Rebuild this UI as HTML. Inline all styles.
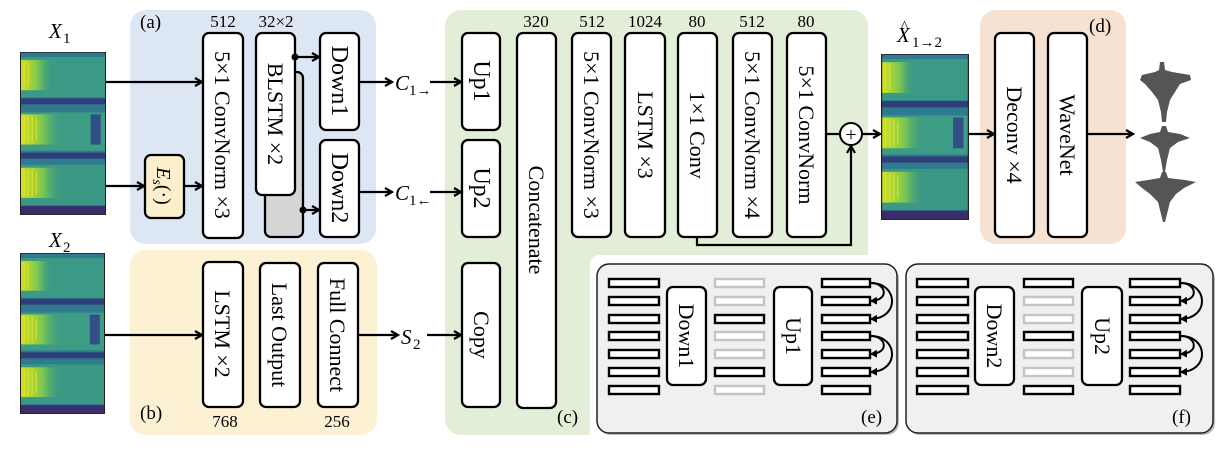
<!DOCTYPE html>
<html><head><meta charset="utf-8"><style>
html,body{margin:0;padding:0;background:#fff}
svg{display:block}
text{font-family:"Liberation Serif",serif;fill:#000}
</style></head><body>
<svg width="1218" height="452" viewBox="0 0 1218 452" xmlns="http://www.w3.org/2000/svg">
<defs>
<marker id="ah" markerWidth="10" markerHeight="10" refX="8" refY="5" orient="auto" markerUnits="userSpaceOnUse">
<path d="M1,1 L8,5 L1,9" fill="none" stroke="#000" stroke-width="2.2"/>
</marker>
<marker id="sh" markerWidth="8" markerHeight="8" refX="6" refY="4" orient="auto" markerUnits="userSpaceOnUse">
<path d="M0,0 L7,4 L0,8 z" fill="#000"/>
</marker>
<linearGradient id="yl" x1="0" x2="1" y1="0" y2="0">
<stop offset="0" stop-color="#d8e020"/><stop offset="0.5" stop-color="#7cc850"/><stop offset="1" stop-color="#2f8f8c" stop-opacity="0"/>
</linearGradient>
<symbol id="spec" viewBox="0 0 85 162">
<rect x="0" y="0" width="85" height="162" fill="#2f7a8e"/>
<rect x="0" y="5" width="85" height="40" fill="#3a9a86"/>
<rect x="0" y="60" width="85" height="38" fill="#3d9c84"/>
<rect x="0" y="112" width="85" height="40" fill="#3a9884"/>
<rect x="0" y="46" width="85" height="6" fill="#2f3d7a"/>
<rect x="0" y="100" width="85" height="6" fill="#2f3d7a"/>
<rect x="0" y="153" width="85" height="9" fill="#3a2d6e"/>
<rect x="0" y="8" width="35" height="30" fill="url(#yl)"/>
<rect x="0" y="62" width="45" height="30" fill="url(#yl)"/>
<rect x="0" y="115" width="45" height="30" fill="url(#yl)"/>
<g stroke="#e6e32a" stroke-width="1.2" opacity="0.8">
<line x1="4" y1="64" x2="4" y2="90"/><line x1="8" y1="64" x2="8" y2="90"/><line x1="12" y1="64" x2="12" y2="90"/><line x1="16" y1="66" x2="16" y2="88"/>
<line x1="4" y1="117" x2="4" y2="143"/><line x1="8" y1="117" x2="8" y2="143"/><line x1="12" y1="117" x2="12" y2="143"/><line x1="16" y1="119" x2="16" y2="141"/>
<line x1="4" y1="10" x2="4" y2="34"/><line x1="8" y1="10" x2="8" y2="34"/>
</g>
<rect x="70" y="62" width="10" height="30" fill="#2f4f86"/>
<rect x="0" y="0" width="85" height="162" fill="none" stroke="#222" stroke-width="1.5"/>
</symbol>
</defs>

<!-- panels -->
<rect x="130" y="10" width="246" height="234" rx="16" fill="#dde7f4"/>
<rect x="130" y="250" width="247" height="185" rx="16" fill="#fdf1d4"/>
<path d="M461,10 H852 a16,16 0 0 1 16,16 V255 H600 a10,10 0 0 0 -10,10 V435 H461 a16,16 0 0 1 -16,-16 V26 a16,16 0 0 1 16,-16 z" fill="#e3eed8"/>
<rect x="980" y="10" width="146" height="234" rx="16" fill="#f6e2d3"/>
<rect x="599" y="267" width="300" height="168" rx="12" fill="#777" opacity="0.5"/>
<rect x="597" y="264" width="300" height="169" rx="12" fill="#f0f0f0" stroke="#222" stroke-width="1.5"/>
<rect x="908" y="267" width="307" height="168" rx="12" fill="#777" opacity="0.5"/>
<rect x="906" y="264" width="307" height="169" rx="12" fill="#f0f0f0" stroke="#222" stroke-width="1.5"/>

<!-- spectrograms -->
<use href="#spec" x="20" y="52" width="86" height="163"/>
<use href="#spec" x="20" y="253" width="85" height="161"/>
<use href="#spec" x="881" y="54" width="88" height="166"/>

<g font-size="21">
<text x="49" y="38" font-style="italic">X</text><text x="63" y="43" font-size="15">1</text>
<text x="49" y="247" font-style="italic">X</text><text x="63" y="252" font-size="15">2</text>
<text x="897" y="42" font-style="italic">X</text><text x="901" y="31" font-size="15">^</text><text x="912" y="47" font-size="15">1→2</text>
<text x="140" y="28" font-size="19">(a)</text>
<text x="140" y="419" font-size="19">(b)</text>
<text x="557" y="423" font-size="19">(c)</text>
<text x="1089" y="32" font-size="19">(d)</text>
<text x="861" y="423" font-size="19">(e)</text>
<text x="1172" y="423" font-size="19">(f)</text>
</g>
<g font-size="17" text-anchor="middle">
<text x="223" y="27">512</text><text x="276" y="27">32×2</text>
<text x="536" y="27">320</text><text x="592" y="27">512</text><text x="645" y="27">1024</text>
<text x="697" y="27">80</text><text x="752" y="27">512</text><text x="806" y="27">80</text>
<text x="225" y="427">768</text><text x="337" y="427">256</text>
</g>

<!-- boxes -->
<g fill="#fff" stroke="#000" stroke-width="2.3">
<rect x="265" y="72" width="38" height="165" rx="6" fill="#d6d6d6"/>
<rect x="203" y="33" width="40" height="205" rx="6"/>
<rect x="256" y="33" width="39" height="162" rx="6"/>
<rect x="320" y="33" width="39" height="97" rx="6"/>
<rect x="320" y="140" width="39" height="97" rx="6"/>
<rect x="145" y="155" width="39" height="63" rx="6" fill="#fcefcc"/>
<rect x="203" y="262" width="40" height="145" rx="6"/>
<rect x="260" y="263" width="40" height="144" rx="6"/>
<rect x="318" y="263" width="40" height="144" rx="6"/>
<rect x="462" y="33" width="38" height="97" rx="6"/>
<rect x="462" y="140" width="38" height="97" rx="6"/>
<rect x="462" y="263" width="38" height="144" rx="6"/>
<rect x="517" y="33" width="39" height="375" rx="6"/>
<rect x="572" y="33" width="39" height="204" rx="6"/>
<rect x="625" y="33" width="40" height="204" rx="6"/>
<rect x="678" y="33" width="39" height="204" rx="6"/>
<rect x="733" y="33" width="39" height="204" rx="6"/>
<rect x="787" y="33" width="39" height="204" rx="6"/>
<rect x="995" y="33" width="39" height="204" rx="6"/>
<rect x="1048" y="33" width="39" height="204" rx="6"/>
<rect x="667" y="287" width="39" height="98" rx="6"/>
<rect x="774" y="287" width="38" height="98" rx="6"/>
<rect x="975" y="287" width="39" height="98" rx="6"/>
<rect x="1082" y="287" width="40" height="98" rx="6"/>
</g>

<!-- rotated labels -->
<g font-size="22">
<text transform="translate(215,135) rotate(90)" text-anchor="middle">5×1 ConvNorm ×3</text>
<text transform="translate(268,114) rotate(90)" text-anchor="middle">BLSTM ×2</text>
<text transform="translate(332,81) rotate(90)" text-anchor="middle" font-size="24">Down1</text>
<text transform="translate(332,188) rotate(90)" text-anchor="middle" font-size="24">Down2</text>
<text transform="translate(215,334) rotate(90)" text-anchor="middle">LSTM ×2</text>
<text transform="translate(272,335) rotate(90)" text-anchor="middle">Last Output</text>
<text transform="translate(330,335) rotate(90)" text-anchor="middle">Full Connect</text>
<text transform="translate(474,81) rotate(90)" text-anchor="middle" font-size="24">Up1</text>
<text transform="translate(474,188) rotate(90)" text-anchor="middle" font-size="24">Up2</text>
<text transform="translate(474,335) rotate(90)" text-anchor="middle">Copy</text>
<text transform="translate(529,220) rotate(90)" text-anchor="middle">Concatenate</text>
<text transform="translate(584,135) rotate(90)" text-anchor="middle">5×1 ConvNorm ×3</text>
<text transform="translate(638,135) rotate(90)" text-anchor="middle">LSTM ×3</text>
<text transform="translate(690,135) rotate(90)" text-anchor="middle">1×1 Conv</text>
<text transform="translate(745,135) rotate(90)" text-anchor="middle">5×1 ConvNorm ×4</text>
<text transform="translate(799,135) rotate(90)" text-anchor="middle">5×1 ConvNorm</text>
<text transform="translate(1007,135) rotate(90)" text-anchor="middle">Deconv ×4</text>
<text transform="translate(1060,135) rotate(90)" text-anchor="middle">WaveNet</text>
<text transform="translate(679,336) rotate(90)" text-anchor="middle">Down1</text>
<text transform="translate(786,336) rotate(90)" text-anchor="middle">Up1</text>
<text transform="translate(987,336) rotate(90)" text-anchor="middle">Down2</text>
<text transform="translate(1095,336) rotate(90)" text-anchor="middle">Up2</text>
</g>
<text transform="translate(157,186) rotate(90)" text-anchor="middle" font-size="20"><tspan font-style="italic">E</tspan><tspan font-size="14" font-style="italic" dy="4">s</tspan><tspan dy="-4">(·)</tspan></text>

<!-- variable labels -->
<g font-size="21" font-style="italic">
<text x="395" y="90">C</text><text x="409" y="95" font-size="15" font-style="normal">1→</text>
<text x="395" y="200">C</text><text x="409" y="205" font-size="15" font-style="normal">1←</text>
<text x="401" y="344">S</text><text x="413" y="349" font-size="15" font-style="normal">2</text>
</g>

<!-- arrows -->
<g stroke="#000" stroke-width="2.2" fill="none" marker-end="url(#ah)">
<line x1="106" y1="82" x2="202" y2="82"/>
<line x1="105" y1="186" x2="144" y2="186"/>
<line x1="184" y1="186" x2="202" y2="186"/>
<line x1="295" y1="57" x2="319" y2="57"/>
<line x1="303" y1="210" x2="319" y2="210"/>
<line x1="359" y1="82" x2="392" y2="82"/>
<line x1="359" y1="192" x2="392" y2="192"/>
<line x1="430" y1="82" x2="461" y2="82"/>
<line x1="430" y1="192" x2="461" y2="192"/>
<line x1="105" y1="335" x2="202" y2="335"/>
<line x1="358" y1="335" x2="398" y2="335"/>
<line x1="427" y1="335" x2="461" y2="335"/>
<line x1="862" y1="134" x2="880" y2="134"/>
<path d="M697,237 V245 H851 V146"/>
<line x1="969" y1="134" x2="994" y2="134"/>
<line x1="1087" y1="134" x2="1133" y2="134"/>
</g>
<line x1="826" y1="134" x2="840" y2="134" stroke="#000" stroke-width="2.2"/>
<circle cx="851" cy="134" r="11" fill="#fff" stroke="#000" stroke-width="2"/>
<text x="851" y="141" font-size="20" text-anchor="middle">+</text>
<circle cx="295" cy="57" r="3.5" fill="#000"/>
<circle cx="303" cy="210" r="3.5" fill="#000"/>

<!-- waveform -->
<g fill="#555">
<polygon points="1160,62 1164,62 1165,70 1172,72 1190,75 1191,80 1180,84 1175,92 1170,100 1167,112 1166,122 1162,122 1161,112 1158,100 1152,92 1145,84 1140,80 1142,75 1155,72 1159,70"/>
<polygon points="1162,126 1166,126 1168,132 1180,134 1190,138 1178,142 1170,148 1167,160 1165,172 1163,172 1161,160 1158,148 1150,142 1140,138 1150,134 1160,132"/>
<polygon points="1162,172 1166,172 1168,178 1185,180 1196,182 1184,188 1176,194 1170,202 1167,214 1165,222 1163,222 1161,214 1158,202 1150,194 1142,188 1135,182 1148,180 1160,178"/>
</g>

<!-- bar columns -->
<g stroke-width="2.4" fill="#fff">
<g stroke="#000">
<rect x="609" y="279" width="50" height="8"/><rect x="609" y="297" width="50" height="8"/><rect x="609" y="315" width="50" height="8"/><rect x="609" y="332" width="50" height="8"/><rect x="609" y="350" width="50" height="8"/><rect x="609" y="368" width="50" height="8"/><rect x="609" y="386" width="50" height="8"/>
<rect x="715" y="315" width="49" height="8"/><rect x="715" y="368" width="49" height="8"/>
<rect x="822" y="279" width="48" height="8"/><rect x="822" y="297" width="48" height="8"/><rect x="822" y="315" width="48" height="8"/><rect x="822" y="332" width="48" height="8"/><rect x="822" y="350" width="48" height="8"/><rect x="822" y="368" width="48" height="8"/><rect x="822" y="386" width="48" height="8"/>
<rect x="917" y="279" width="51" height="8"/><rect x="917" y="297" width="51" height="8"/><rect x="917" y="315" width="51" height="8"/><rect x="917" y="332" width="51" height="8"/><rect x="917" y="350" width="51" height="8"/><rect x="917" y="368" width="51" height="8"/><rect x="917" y="386" width="51" height="8"/>
<rect x="1024" y="279" width="49" height="8"/><rect x="1024" y="332" width="49" height="8"/><rect x="1024" y="386" width="49" height="8"/>
<rect x="1130" y="279" width="50" height="8"/><rect x="1130" y="297" width="50" height="8"/><rect x="1130" y="315" width="50" height="8"/><rect x="1130" y="332" width="50" height="8"/><rect x="1130" y="350" width="50" height="8"/><rect x="1130" y="368" width="50" height="8"/><rect x="1130" y="386" width="50" height="8"/>
</g>
<g stroke="#c4c4c4">
<rect x="715" y="279" width="49" height="8"/><rect x="715" y="297" width="49" height="8"/><rect x="715" y="332" width="49" height="8"/><rect x="715" y="350" width="49" height="8"/><rect x="715" y="386" width="49" height="8"/>
<rect x="1024" y="297" width="49" height="8"/><rect x="1024" y="315" width="49" height="8"/><rect x="1024" y="350" width="49" height="8"/><rect x="1024" y="368" width="49" height="8"/>
</g>
</g>
<!-- skip arcs -->
<g stroke="#000" stroke-width="2" fill="none" marker-end="url(#sh)">
<path d="M871,283 C886,283 890,300 871,301"/>
<path d="M871,283 C898,283 900,318 871,319"/>
<path d="M871,336 C886,336 890,353 871,354"/>
<path d="M871,336 C898,336 900,371 871,372"/>
<path d="M1181,283 C1196,283 1200,300 1181,301"/>
<path d="M1181,283 C1208,283 1210,318 1181,319"/>
<path d="M1181,336 C1196,336 1200,353 1181,354"/>
<path d="M1181,336 C1208,336 1210,371 1181,372"/>
</g>
</svg>
</body></html>
